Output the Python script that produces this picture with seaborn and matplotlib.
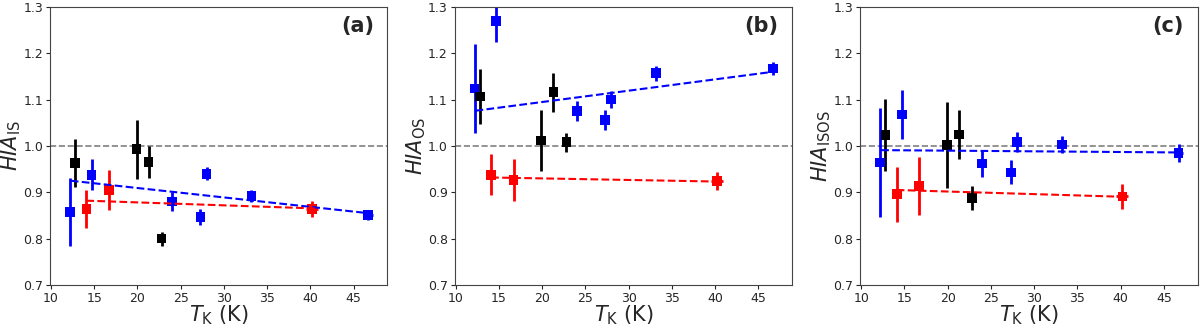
import numpy as np
import pandas as pd
import seaborn as sns
import matplotlib
matplotlib.use("Agg")
import matplotlib.pyplot as plt

# kinetic temperatures of the three source groups
t_blue = [12.2, 14.7, 24.0, 27.3, 28.0, 33.2, 46.7]
t_black = [12.8, 19.9, 21.3, 22.8]
t_red = [14.1, 16.7, 40.2]
xerr_blue = [0, 0, 0, 0, 0.2, 0.3, 0.5]
xerr_black = [0, 0, 0, 0]
xerr_red = [0, 0, 0.7]

# (a) HIA_IS
is_blue = [0.857, 0.938, 0.880, 0.847, 0.940, 0.892, 0.851]
is_blue_err = [0.073, 0.033, 0.020, 0.018, 0.014, 0.012, 0.010]
is_black = [0.963, 0.993, 0.965, 0.800]
is_black_err = [0.052, 0.064, 0.035, 0.015]
is_red = [0.864, 0.905, 0.864]
is_red_err = [0.040, 0.043, 0.018]

# (b) HIA_OS
os_blue = [1.124, 1.270, 1.076, 1.056, 1.100, 1.157, 1.167]
os_blue_err = [0.096, 0.045, 0.022, 0.021, 0.018, 0.016, 0.015]
os_black = [1.107, 1.012, 1.116, 1.008]
os_black_err = [0.060, 0.065, 0.042, 0.021]
os_red = [0.938, 0.926, 0.924]
os_red_err = [0.044, 0.045, 0.019]

# (c) HIA_ISOS
isos_blue = [0.964, 1.068, 0.962, 0.943, 1.009, 1.003, 0.985]
isos_blue_err = [0.117, 0.053, 0.029, 0.026, 0.022, 0.019, 0.020]
isos_black = [1.023, 1.002, 1.025, 0.888]
isos_black_err = [0.078, 0.092, 0.053, 0.026]
isos_red = [0.896, 0.914, 0.891]
isos_red_err = [0.059, 0.062, 0.026]

# linear fits (end points)
fit_blue_x = [12.3, 46.7]
fit_red_x = [14.1, 40.9]
fit_is_blue = [0.925, 0.855]
fit_is_red = [0.882, 0.865]
fit_os_blue = [1.076, 1.160]
fit_os_red = [0.932, 0.923]
fit_isos_blue = [0.991, 0.986]
fit_isos_red = [0.905, 0.890]

panels = [
    ("(a)", r"$HIA_{\mathrm{IS}}$", (is_blue, is_blue_err), (is_black, is_black_err),
     (is_red, is_red_err), fit_is_blue, fit_is_red),
    ("(b)", r"$HIA_{\mathrm{OS}}$", (os_blue, os_blue_err), (os_black, os_black_err),
     (os_red, os_red_err), fit_os_blue, fit_os_red),
    ("(c)", r"$HIA_{\mathrm{ISOS}}$", (isos_blue, isos_blue_err), (isos_black, isos_black_err),
     (isos_red, isos_red_err), fit_isos_blue, fit_isos_red),
]

sns.set_style("ticks")
plt.rcParams['font.family'] = ['DejaVu Sans']

fig = plt.figure(figsize=(12, 3.28), dpi=100)
lefts = [0.0417, 0.379, 0.717]

for left, (tag, ylab, blue, black, red, fb, fr) in zip(lefts, panels):
    ax = fig.add_axes([left, 0.131, 0.281, 0.848])
    ax.axhline(1.0, color="gray", ls="--", lw=1.2, zorder=1)

    groups = [(t_blue, xerr_blue, blue, "blue"),
              (t_black, xerr_black, black, "black"),
              (t_red, xerr_red, red, "red")]
    for t, xe, (v, e), c in groups:
        ax.errorbar(t, v, yerr=e, xerr=xe, fmt="none", ecolor=c, elinewidth=2, zorder=2)
        df = pd.DataFrame({"T": t, "HIA": v})
        sns.scatterplot(data=df, x="T", y="HIA", marker="s", color=c, s=48,
                        edgecolor="none", ax=ax, zorder=3)

    sns.lineplot(x=fit_blue_x, y=fb, color="blue", ls="--", lw=1.5, ax=ax, zorder=4)
    sns.lineplot(x=fit_red_x, y=fr, color="red", ls="--", lw=1.5, ax=ax, zorder=4)

    ax.set_xlim(9.9, 48.9)
    ax.set_ylim(0.7, 1.3)
    ax.set_xticks(np.arange(10, 50, 5))
    ax.set_yticks(np.arange(0.7, 1.31, 0.1))
    ax.set_yticklabels([f"{v:.1f}" for v in np.arange(0.7, 1.31, 0.1)])
    ax.tick_params(labelsize=9, length=3, pad=2)
    ax.set_xlabel(r"$T_{\mathrm{K}}$ (K)", fontsize=15, labelpad=-1)
    ax.set_ylabel(ylab, fontsize=15, labelpad=0)
    ax.text(0.96, 0.93, tag, transform=ax.transAxes, ha="right", va="center",
            fontsize=15, fontweight="bold")
    for s in ax.spines.values():
        s.set_color("#444444")

fig.savefig("out.png", dpi=100)
